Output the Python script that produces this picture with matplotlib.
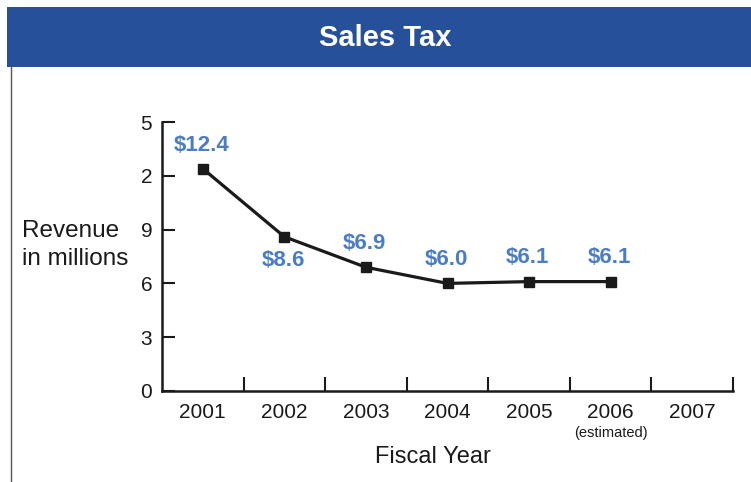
import matplotlib.pyplot as plt
from matplotlib.patches import Rectangle
from matplotlib import font_manager

names = {f.name for f in font_manager.fontManager.ttflist}
narrow = "Liberation Sans Narrow" if "Liberation Sans Narrow" in names else "Liberation Sans"
plt.rcParams['font.family'] = [narrow, 'DejaVu Sans']

years = ["2001", "2002", "2003", "2004", "2005", "2006", "2007"]
revenue = [12.4, 8.6, 6.9, 6.0, 6.1, 6.1]
labels = ["$12.4", "$8.6", "$6.9", "$6.0", "$6.1", "$6.1"]
label_side = [1, -1, 1, 1, 1, 1]
ytick_vals = [0, 3, 6, 9, 12, 15]
ytick_text = ["0", "3", "6", "9", "2", "5"]

blue = "#27509b"
label_blue = "#4a7dc4"

fig = plt.figure(figsize=(7.51, 4.82), dpi=100)

# header band
fig.patches.append(Rectangle((7/751, 1-67/482), 1, 60/482, transform=fig.transFigure,
                             facecolor=blue, edgecolor="none"))
fig.text(385/751, 1-38/482, "Sales Tax", color="white", fontsize=21, fontweight="bold",
         ha="center", va="center")
fig.add_artist(plt.Line2D([11/751, 11/751], [0, 1-67/482], transform=fig.transFigure,
                          color="#555555", lw=1))

ax = fig.add_axes([162/751, 1-391/482, (733-162)/751, (391-122)/482])
x = list(range(len(revenue)))
ax.plot(x, revenue, color="#1a1a1a", lw=2.3, marker="s", markersize=6.5, clip_on=False)

for xi, v, lab, s in zip(x, revenue, labels, label_side):
    ax.annotate(lab, (xi, v), xytext=(-1, 17 * s), textcoords="offset points",
                ha="center", va="center", color=label_blue, fontsize=16, fontweight="bold")

ax.set_xlim(-0.5, 6.5)
ax.set_ylim(0, 15)
ax.set_yticks(ytick_vals, ytick_text)
ax.set_xticks([i + 0.5 for i in range(7)], [""] * 7)
ax.set_xticks(range(7), years, minor=True)
ax.tick_params(axis="x", which="major", direction="in", length=10, width=1.5, color="#1a1a1a")
ax.tick_params(axis="x", which="minor", length=0, pad=9, labelsize=15, labelcolor="#1a1a1a")
ax.tick_params(axis="y", direction="in", length=9, width=1.5, pad=7, labelsize=15,
               color="#1a1a1a", labelcolor="#1a1a1a")
for side in ["top", "right"]:
    ax.spines[side].set_visible(False)
for side in ["left", "bottom"]:
    ax.spines[side].set_linewidth(1.8)
    ax.spines[side].set_color("#1a1a1a")

ax.annotate("(estimated)", (5, 0), xycoords=("data", "axes fraction"), xytext=(0, -30),
            textcoords="offset points", ha="center", va="center", fontsize=10.5, color="#1a1a1a")
fig.text(433/751, 1-457/482, "Fiscal Year", fontsize=17, ha="center", va="center", color="#1a1a1a")
fig.text(22/751, 1-245/482, "Revenue\nin millions", fontsize=17.5, ha="left", va="center",
         color="#1a1a1a", linespacing=1.35)

fig.savefig("out.png", dpi=100)
